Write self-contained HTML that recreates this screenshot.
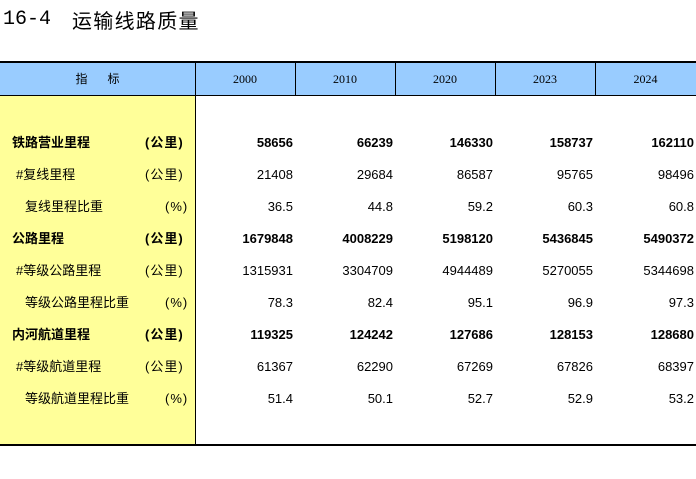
<!DOCTYPE html>
<html><head><meta charset="utf-8"><style>
body{margin:0;width:696px;height:479px;background:#fff;position:relative;overflow:hidden;font-family:"Liberation Sans","Noto Sans CJK SC",sans-serif}
.a{position:absolute}
.t{top:7px;font-size:20px;color:#000;white-space:pre}
.hd{left:0;top:63px;width:696px;height:32px;background:#99ccff}
.ye{left:0;top:95px;width:195px;height:350px;background:#ffff99}
.vl{top:63px;width:1px;background:#000}
.h{top:63px;height:32px;line-height:32px;font-family:"Liberation Serif","Noto Serif CJK SC",serif;font-size:12px;text-align:center}
.r{height:20px;line-height:20px;font-size:13px;white-space:nowrap}
.n{text-align:right;width:90px}
.b{font-weight:bold}
</style></head><body>
<div class="a t" style="left:3px;top:10px;line-height:20px;font-family:'Liberation Mono',monospace">16-4</div>
<div class="a t" style="left:72px;top:7px;line-height:26px;letter-spacing:1.3px;font-family:'Noto Sans CJK SC',sans-serif">运输线路质量</div>
<div class="a hd"></div>
<div class="a ye"></div>
<div class="a" style="left:0;top:61px;width:696px;height:2px;background:#000"></div>
<div class="a" style="left:0;top:95px;width:696px;height:1px;background:#000"></div>
<div class="a" style="left:0;top:444px;width:696px;height:2px;background:#000"></div>
<div class="a vl" style="left:195px;height:382px"></div>
<div class="a vl" style="left:295px;height:32px"></div>
<div class="a vl" style="left:395px;height:32px"></div>
<div class="a vl" style="left:495px;height:32px"></div>
<div class="a vl" style="left:595px;height:32px"></div>
<div class="a h" style="left:0;width:195px;font-family:'Liberation Sans','Noto Sans CJK SC',sans-serif">指&nbsp;&nbsp;&nbsp;&nbsp;&nbsp;&nbsp;标</div>
<div class="a h" style="left:195px;width:100px">2000</div>
<div class="a h" style="left:295px;width:100px">2010</div>
<div class="a h" style="left:395px;width:100px">2020</div>
<div class="a h" style="left:495px;width:100px">2023</div>
<div class="a h" style="left:595px;width:101px">2024</div>

<div id="rows"></div>
<script>
var d=[
["铁路营业里程","(公里)",1,0,["58656","66239","146330","158737","162110"]],
["#复线里程","(公里)",0,4,["21408","29684","86587","95765","98496"]],
["复线里程比重","(%)",0,13,["36.5","44.8","59.2","60.3","60.8"]],
["公路里程","(公里)",1,0,["1679848","4008229","5198120","5436845","5490372"]],
["#等级公路里程","(公里)",0,4,["1315931","3304709","4944489","5270055","5344698"]],
["等级公路里程比重","(%)",0,13,["78.3","82.4","95.1","96.9","97.3"]],
["内河航道里程","(公里)",1,0,["119325","124242","127686","128153","128680"]],
["#等级航道里程","(公里)",0,4,["61367","62290","67269","67826","68397"]],
["等级航道里程比重","(%)",0,13,["51.4","50.1","52.7","52.9","53.2"]]];
var h="",ends=[293,393,493,593,694];
d.forEach(function(r,i){var y=133+i*32,c=r[2]?" b":"";
h+='<div class="a r'+c+'" style="left:'+(12+r[3])+'px;top:'+y+'px">'+r[0]+'</div>';
h+='<div class="a r'+c+'" style="left:'+(r[1]=="(%)"?165:145)+'px;top:'+y+'px;letter-spacing:1px">'+r[1]+'</div>';
r[4].forEach(function(v,j){h+='<div class="a r n'+c+'" style="left:'+(ends[j]-90)+'px;top:'+y+'px">'+v+'</div>';});});
document.getElementById("rows").innerHTML=h;
</script>
</body></html>
